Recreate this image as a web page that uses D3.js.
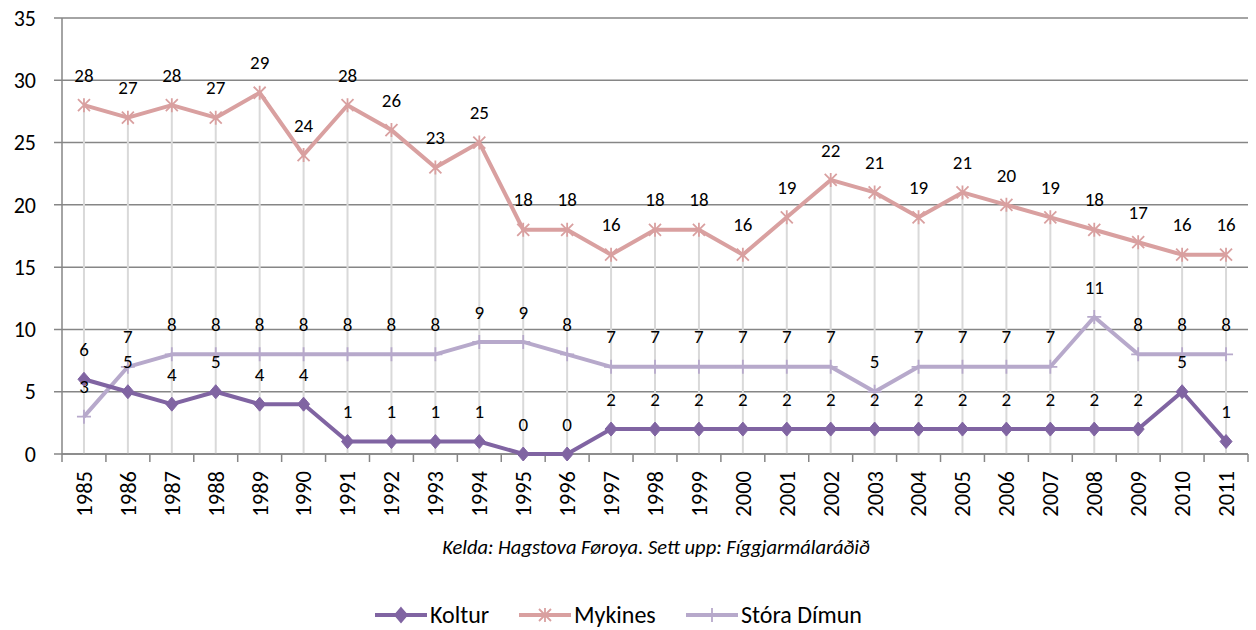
<!DOCTYPE html>
<html>
<head>
<meta charset="utf-8">
<script src="https://cdn.jsdelivr.net/npm/d3@7"></script>
<style>
  body { margin: 0; background: #fff; }
  svg { font-family: Carlito, Lato, "Open Sans", sans-serif; }
</style>
</head>
<body>
<svg id="chart" width="1256" height="630"></svg>
<script>
// data
const years = ['1985','1986','1987','1988','1989','1990','1991','1992','1993','1994','1995','1996','1997','1998','1999','2000','2001','2002','2003','2004','2005','2006','2007','2008','2009','2010','2011'];
const koltur = [6,5,4,5,4,4,1,1,1,1,0,0,2,2,2,2,2,2,2,2,2,2,2,2,2,5,1];
const mykines = [28,27,28,27,29,24,28,26,23,25,18,18,16,18,18,16,19,22,21,19,21,20,19,18,17,16,16];
const storaDimun = [3,7,8,8,8,8,8,8,8,9,9,8,7,7,7,7,7,7,5,7,7,7,7,11,8,8,8];
const yTicks = [0,5,10,15,20,25,30,35];
const sourceText = 'Kelda: Hagstova Føroya. Sett upp: Fíggjarmálaráðið';

const series = [
  { name: 'Koltur', values: koltur, color: '#8064a2', marker: 'diamond' },
  { name: 'Mykines', values: mykines, color: '#d9a0a0', marker: 'star' },
  { name: 'Stóra Dímun', values: storaDimun, color: '#b7a9cb', marker: 'plus' }
];

const svg = d3.select('#chart');
const plotLeft = 62, plotRight = 1248, plotTop = 18, plotBottom = 454;

const x = d3.scaleBand().domain(years).range([plotLeft, plotRight]);
const y = d3.scaleLinear().domain([0, 35]).range([plotBottom, plotTop]);
const cx = d => x(d) + x.bandwidth() / 2;

// horizontal gridlines
svg.append('g').selectAll('line').data(yTicks).join('line')
  .attr('x1', plotLeft - 8).attr('x2', plotRight)
  .attr('y1', d => y(d)).attr('y2', d => y(d))
  .attr('stroke', '#868686').attr('stroke-width', 1.5);

// y tick labels
svg.append('g').selectAll('text').data(yTicks).join('text')
  .attr('x', 36).attr('y', d => y(d)).attr('dy', '0.35em')
  .attr('text-anchor', 'end').attr('font-size', 22).attr('fill', '#000')
  .text(d => d);

// drop lines
svg.append('g').selectAll('line').data(years).join('line')
  .attr('x1', d => cx(d)).attr('x2', d => cx(d))
  .attr('y1', (d, i) => y(Math.max(koltur[i], mykines[i], storaDimun[i])))
  .attr('y2', y(0))
  .attr('stroke', '#d9d9d9').attr('stroke-width', 2);

// axes lines
svg.append('line').attr('x1', plotLeft).attr('x2', plotLeft).attr('y1', plotTop).attr('y2', plotBottom)
  .attr('stroke', '#868686').attr('stroke-width', 1.5);
svg.append('line').attr('x1', plotLeft).attr('x2', plotRight).attr('y1', plotBottom).attr('y2', plotBottom)
  .attr('stroke', '#868686').attr('stroke-width', 1.5);

// x ticks between categories
const bounds = years.map(d => x(d)).concat([plotRight]);
svg.append('g').selectAll('line').data(bounds).join('line')
  .attr('x1', d => d).attr('x2', d => d)
  .attr('y1', plotBottom).attr('y2', plotBottom + 8)
  .attr('stroke', '#868686').attr('stroke-width', 1.5);

// x labels, rotated
svg.append('g').selectAll('text').data(years).join('text')
  .attr('transform', d => `translate(${cx(d)},${plotBottom + 17}) rotate(-90)`)
  .attr('text-anchor', 'end').attr('dy', '0.35em')
  .attr('font-size', 22.5).attr('fill', '#000')
  .text(d => d);

function markerPath(type) {
  if (type === 'diamond') return 'M0,-7L6,0L0,7L-6,0Z';
  if (type === 'star') return 'M-6,-6L6,6M-6,6L6,-6M0,-7L0,7';
  return 'M-7,0L7,0M0,-7L0,7';
}

const line = d3.line().x((v, i) => cx(years[i])).y(v => y(v));

// draw series: Stóra Dímun, Mykines, then Koltur on top
[series[2], series[1], series[0]].forEach(s => {
  const g = svg.append('g');
  g.append('path').datum(s.values)
    .attr('d', line).attr('fill', 'none')
    .attr('stroke', s.color).attr('stroke-width', 4)
    .attr('stroke-linejoin', 'round');
  g.selectAll('path.m').data(s.values).join('path')
    .attr('class', 'm')
    .attr('transform', (v, i) => `translate(${cx(years[i])},${y(v)})`)
    .attr('d', markerPath(s.marker))
    .attr('fill', s.marker === 'diamond' ? s.color : 'none')
    .attr('stroke', s.color).attr('stroke-width', s.marker === 'diamond' ? 1 : 1.8);
});

// data labels
series.forEach(s => {
  svg.append('g').selectAll('text').data(s.values).join('text')
    .attr('x', (v, i) => cx(years[i]))
    .attr('y', v => y(v) - 30).attr('dy', '0.35em')
    .attr('text-anchor', 'middle').attr('font-size', 19).attr('fill', '#000')
    .text(v => v);
});

// source
svg.append('text').attr('x', 656).attr('y', 547).attr('dy', '0.35em')
  .attr('text-anchor', 'middle').attr('font-size', 20.5)
  .attr('font-style', 'italic').attr('fill', '#000')
  .text(sourceText);

// legend
const legendX = [375, 519, 686];
const lg = svg.append('g').selectAll('g').data(series).join('g')
  .attr('transform', (s, i) => `translate(${legendX[i]},615)`);
lg.append('line').attr('x1', 0).attr('x2', 52)
  .attr('stroke', s => s.color).attr('stroke-width', 4);
lg.append('path').attr('transform', 'translate(26,0)')
  .attr('d', s => markerPath(s.marker))
  .attr('fill', s => s.marker === 'diamond' ? s.color : 'none')
  .attr('stroke', s => s.color).attr('stroke-width', 1.8);
lg.append('text').attr('x', 55).attr('dy', '0.35em')
  .attr('font-size', 24).attr('fill', '#000')
  .text(s => s.name);
</script>
</body>
</html>
